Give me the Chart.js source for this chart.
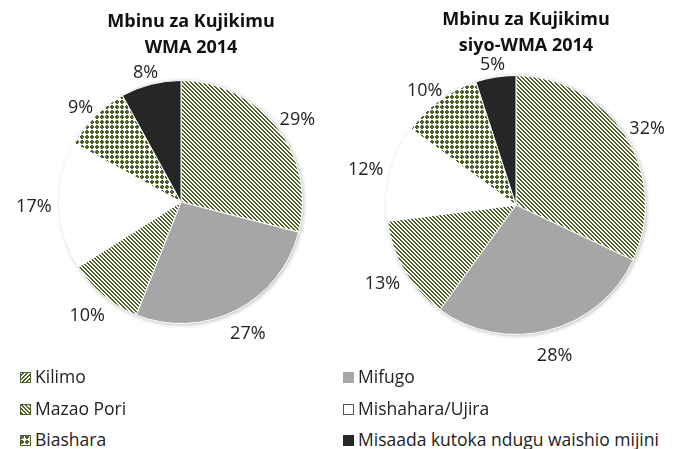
<!DOCTYPE html>
<html>
<head>
<meta charset="utf-8">
<script src="https://cdn.jsdelivr.net/npm/chart.js@4.4.0/dist/chart.umd.min.js"></script>
<style>
  body { margin: 0; background: #fff; }
  #wrap { position: relative; width: 683px; height: 449px; overflow: hidden; font-family: 'Open Sans', sans-serif; }
  canvas.pie { position: absolute; top: 0; }
  .leg { position: absolute; font-size: 17.5px; color: #222; white-space: nowrap; line-height: 20px; }
  .leg canvas { vertical-align: 0px; margin-right: 4px; }
</style>
</head>
<body>
<div id="wrap">
  <canvas id="pieWma" class="pie" width="340" height="372" style="left:0"></canvas>
  <canvas id="pieNonWma" class="pie" width="343" height="372" style="left:340px"></canvas>
  <div id="legend"></div>
</div>
<script>
// categories and values (percent)
const categories = ['Kilimo', 'Mifugo', 'Mazao Pori', 'Mishahara/Ujira', 'Biashara', 'Misaada kutoka ndugu waishio mijini'];
const wmaValues = [29, 27, 10, 17, 9, 8];
const nonWmaValues = [32, 28, 13, 12, 10, 5];
const titleWma = ['Mbinu za Kujikimu', 'WMA 2014'];
const titleNonWma = ['Mbinu za Kujikimu', 'siyo-WMA 2014'];

const green = '#4f6228';

// small tiles used as fill patterns
function makeTile(kind) {
    const c = document.createElement('canvas');
    const n = kind === 'dots' ? 5 : 4;
    c.width = n; c.height = n;
    const g = c.getContext('2d');
    g.fillStyle = '#fff';
    g.fillRect(0, 0, n, n);
    g.fillStyle = green;
    if (kind === 'back') {
        // "\" stripes
        for (let i = 0; i < 4; i++) {
            g.fillRect(i, i, 1, 1);
            g.fillRect((i + 1) % 4, i, 1, 1);
        }
    } else if (kind === 'fwd') {
        for (let i = 0; i < 4; i++) {
            g.fillRect(3 - i, i, 1, 1);
            g.fillRect((4 - i) % 4, i, 1, 1);
        }
    } else if (kind === 'dots') {
        g.fillRect(1, 0, 2, 4);
        g.fillRect(0, 1, 4, 2);
    }
    return c;
}
const pctx = document.createElement('canvas').getContext('2d');
const stripes = pctx.createPattern(makeTile('back'), 'repeat');
const dots = pctx.createPattern(makeTile('dots'), 'repeat');
const fills = [stripes, '#a6a6a6', stripes, '#ffffff', dots, '#262626'];

// title, soft shadow behind the pie, outside percentage labels
const piePlugin = {
    id: 'piePlugin',
    beforeDatasetsDraw(chart) {
        const arc = chart.getDatasetMeta(0).data[0];
        if (!arc) return;
        const ctx = chart.ctx;
        ctx.save();
        ctx.shadowColor = 'rgba(0,0,0,0.3)';
        ctx.shadowBlur = 4;
        ctx.shadowOffsetX = 1;
        ctx.shadowOffsetY = 1;
        ctx.fillStyle = '#fff';
        ctx.beginPath();
        ctx.arc(arc.x, arc.y, arc.outerRadius, 0, Math.PI * 2);
        ctx.fill();
        ctx.restore();
    },
    afterDatasetsDraw(chart, args, opts) {
        const ctx = chart.ctx;
        const values = chart.data.datasets[0].data;
        const area = chart.chartArea;
        ctx.save();
        // title, a little right of the pie centre as in the original
        ctx.font = 'bold 18px "Open Sans"';
        ctx.fillStyle = '#111';
        ctx.textAlign = 'center';
        ctx.textBaseline = 'middle';
        const cx = (area.left + area.right) / 2 + 10;
        opts.title.forEach((line, k) => {
            ctx.fillText(line, cx, area.top - opts.titleGap + k * 26);
        });

        ctx.font = '18px "Open Sans"';
        ctx.fillStyle = '#222';
        chart.getDatasetMeta(0).data.forEach((arc, i) => {
            const mid = (arc.startAngle + arc.endAngle) / 2;
            const dx = Math.cos(mid), dy = Math.sin(mid);
            const txt = values[i] + '%';
            const w = ctx.measureText(txt).width;
            const r = arc.outerRadius + 8;
            const x = arc.x + dx * r + dx * w / 2;
            const y = arc.y + dy * r + (dy > 0 ? dy * 18 : dy * 4);
            ctx.fillText(txt, x, y);
        });
        ctx.restore();
    }
};

function makePie(id, values, title, pad, titleGap) {
    return new Chart(document.getElementById(id), {
        type: 'pie',
        data: {
            labels: categories,
            datasets: [{
                data: values,
                backgroundColor: fills,
                borderColor: '#ffffff',
                borderWidth: 1
            }]
        },
        options: {
            responsive: false,
            animation: false,
            layout: { padding: pad },
            plugins: {
                legend: { display: false },
                tooltip: { enabled: false },
                title: { display: false },
                piePlugin: { title: title, titleGap: titleGap }
            }
        },
        plugins: [piePlugin]
    });
}

makePie('pieWma', wmaValues, titleWma, { left: 59, right: 37, top: 80, bottom: 48 }, 58);
makePie('pieNonWma', nonWmaValues, titleNonWma, { left: 46, right: 37, top: 75, bottom: 37 }, 55);

// legend below the pies, two columns
const legendTiles = [makeTile('fwd'), null, makeTile('back'), null, makeTile('dots'), null];
const legend = document.getElementById('legend');
const colX = [20, 343];
const rowY = [366, 398, 429];
categories.forEach((name, i) => {
    const item = document.createElement('div');
    item.className = 'leg';
    item.style.left = colX[i % 2] + 'px';
    item.style.top = rowY[Math.floor(i / 2)] + 'px';
    const sw = document.createElement('canvas');
    sw.width = 11; sw.height = 11;
    const g = sw.getContext('2d');
    g.fillStyle = legendTiles[i] ? g.createPattern(legendTiles[i], 'repeat') : fills[i];
    g.fillRect(0, 0, 11, 11);
    g.strokeStyle = i === 3 ? '#555' : (legendTiles[i] ? green : fills[i]);
    g.lineWidth = 1;
    g.strokeRect(0.5, 0.5, 10, 10);
    item.appendChild(sw);
    item.appendChild(document.createTextNode(name));
    legend.appendChild(item);
});
</script>
</body>
</html>
